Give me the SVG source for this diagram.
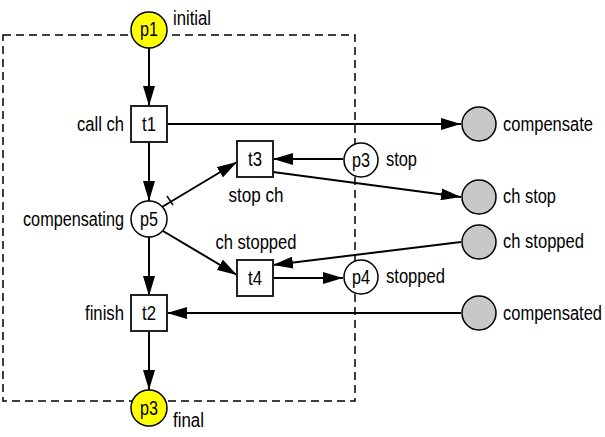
<svg xmlns="http://www.w3.org/2000/svg" width="605" height="437" viewBox="0 0 605 437">
<style>
text{font-family:"Liberation Sans",Arial,sans-serif;font-size:20px;fill:#000}
.c{text-anchor:middle}
.r{text-anchor:end}
.place{fill:#fff;stroke:#000;stroke-width:1.5}
.init{fill:#ffff00;stroke:#000;stroke-width:1.5}
.ext{fill:#c8c8c8;stroke:#000;stroke-width:1.5}
.tr{fill:#fff;stroke:#222;stroke-width:2}
.arc{stroke:#000;stroke-width:2;fill:none;marker-end:url(#ah)}
</style>
<defs>
<marker id="ah" markerUnits="userSpaceOnUse" markerWidth="20" markerHeight="12" refX="20" refY="6" orient="auto">
<path d="M0,0 L20,6 L0,12 z" fill="#000"/>
</marker>
</defs>
<rect x="3" y="35" width="352" height="366" fill="none" stroke="#000" stroke-width="1.5" stroke-dasharray="8,5"/>
<g id="connectors">
<line class="arc" x1="149" y1="48" x2="149" y2="106"/>
<line class="arc" x1="149" y1="142" x2="149" y2="201"/>
<line class="arc" x1="149" y1="237" x2="149" y2="296"/>
<line class="arc" x1="149" y1="331" x2="149" y2="390"/>
<line class="arc" x1="167" y1="124" x2="461" y2="124"/>
<line class="arc" x1="343" y1="159" x2="273" y2="159"/>
<line class="arc" x1="273" y1="172" x2="461" y2="197"/>
<line class="arc" x1="162" y1="207" x2="237" y2="162"/>
<line x1="167" y1="196" x2="173" y2="205" stroke="#000" stroke-width="1.5"/>
<line class="arc" x1="163" y1="231" x2="237" y2="275"/>
<line class="arc" x1="461" y1="242" x2="273" y2="265"/>
<line class="arc" x1="273" y1="278" x2="343" y2="278"/>
<line class="arc" x1="461" y1="313" x2="167" y2="313"/>
</g>
<g id="p1"><circle class="init" cx="149" cy="30" r="18"/><text class="c" x="149" y="36" textLength="18" lengthAdjust="spacingAndGlyphs">p1</text><text x="173" y="25" textLength="38" lengthAdjust="spacingAndGlyphs">initial</text></g>
<g id="t1"><rect class="tr" x="131" y="106" width="36" height="36"/><text class="c" x="149" y="131" textLength="14" lengthAdjust="spacingAndGlyphs">t1</text><text class="r" x="124" y="131" textLength="47" lengthAdjust="spacingAndGlyphs">call ch</text></g>
<g id="t3"><rect class="tr" x="237" y="141" width="36" height="36"/><text class="c" x="255" y="166" textLength="14" lengthAdjust="spacingAndGlyphs">t3</text><text class="c" x="256" y="202" textLength="55" lengthAdjust="spacingAndGlyphs">stop ch</text></g>
<g id="p5"><circle class="place" cx="149" cy="219" r="18"/><text class="c" x="149" y="226" textLength="18" lengthAdjust="spacingAndGlyphs">p5</text><text class="r" x="124" y="226" textLength="101" lengthAdjust="spacingAndGlyphs">compensating</text></g>
<g id="t4"><rect class="tr" x="237" y="260" width="36" height="36"/><text class="c" x="255" y="285" textLength="14" lengthAdjust="spacingAndGlyphs">t4</text><text class="c" x="256" y="249" textLength="81" lengthAdjust="spacingAndGlyphs">ch stopped</text></g>
<g id="t2"><rect class="tr" x="131" y="295" width="36" height="36"/><text class="c" x="149" y="320" textLength="14" lengthAdjust="spacingAndGlyphs">t2</text><text class="r" x="124" y="320" textLength="39" lengthAdjust="spacingAndGlyphs">finish</text></g>
<g id="p3final"><circle class="init" cx="149" cy="408" r="18"/><text class="c" x="149" y="415" textLength="18" lengthAdjust="spacingAndGlyphs">p3</text><text x="173" y="427" textLength="31" lengthAdjust="spacingAndGlyphs">final</text></g>
<g id="p3stop"><circle class="place" cx="361" cy="160" r="17"/><text class="c" x="361" y="167" textLength="18" lengthAdjust="spacingAndGlyphs">p3</text><text x="386" y="166" textLength="31" lengthAdjust="spacingAndGlyphs">stop</text></g>
<g id="p4"><circle class="place" cx="361" cy="277" r="17"/><text class="c" x="361" y="284" textLength="18" lengthAdjust="spacingAndGlyphs">p4</text><text x="386" y="283" textLength="59" lengthAdjust="spacingAndGlyphs">stopped</text></g>
<g id="compensate"><circle class="ext" cx="479" cy="124" r="17"/><text x="503" y="131" textLength="90" lengthAdjust="spacingAndGlyphs">compensate</text></g>
<g id="chstop"><circle class="ext" cx="479" cy="197" r="17"/><text x="503" y="203" textLength="53" lengthAdjust="spacingAndGlyphs">ch stop</text></g>
<g id="chstopped"><circle class="ext" cx="479" cy="242" r="17"/><text x="503" y="248" textLength="81" lengthAdjust="spacingAndGlyphs">ch stopped</text></g>
<g id="compensated"><circle class="ext" cx="479" cy="313" r="17"/><text x="503" y="320" textLength="99" lengthAdjust="spacingAndGlyphs">compensated</text></g>
</svg>
